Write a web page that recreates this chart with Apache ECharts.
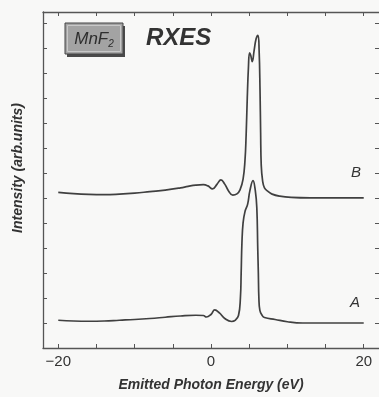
<!DOCTYPE html>
<html>
<head>
<meta charset="utf-8">
<script src="https://cdn.jsdelivr.net/npm/echarts@6/dist/echarts.min.js"></script>
<style>
  html, body { margin: 0; padding: 0; background: #f8f8f7; }
  #chart { width: 379px; height: 397px; }
</style>
</head>
<body>
<div id="chart"></div>
<script>
// Spectrum B (upper trace), emitted photon energy in eV vs. intensity (arb. units)
const energyB = [-20, -18, -16, -14, -12, -10, -8, -6, -4, -3, -2, -1, -0.4, 0.2, 0.8, 1.3, 1.8, 2.3, 2.85, 3.4, 3.8, 4.2, 4.45, 4.6, 4.75, 4.9, 5.05, 5.2, 5.4, 5.65, 5.9, 6.15, 6.3, 6.42, 6.5, 6.58, 6.75, 7.0, 7.5, 8.0, 9.0, 10.5, 13, 16, 20];
const intensityB = [6.22, 6.17, 6.14, 6.13, 6.15, 6.19, 6.25, 6.31, 6.40, 6.46, 6.51, 6.53, 6.48, 6.36, 6.55, 6.72, 6.55, 6.28, 6.11, 6.16, 6.32, 6.75, 7.5, 8.5, 10.0, 11.2, 11.8, 11.7, 11.45, 11.9, 12.35, 12.5, 11.9, 10.3, 8.6, 7.3, 6.7, 6.4, 6.25, 6.15, 6.07, 6.02, 6.0, 6.0, 6.0];

// Spectrum A (lower trace)
const energyA = [-20, -18, -16, -14, -12, -10, -8, -6, -4, -2, -1, -0.6, 0, 0.5, 1.1, 1.8, 2.7, 3.15, 3.6, 3.85, 3.95, 4.05, 4.2, 4.45, 4.8, 5.1, 5.5, 5.8, 6.0, 6.12, 6.2, 6.27, 6.4, 6.7, 7.0, 8.4, 10, 12, 16, 20];
const intensityA = [1.11, 1.08, 1.07, 1.08, 1.11, 1.14, 1.18, 1.23, 1.28, 1.31, 1.30, 1.24, 1.34, 1.52, 1.40, 1.18, 1.06, 1.10, 1.30, 2.0, 3.0, 4.2, 5.0, 5.45, 5.75, 6.3, 6.69, 6.3, 5.6, 4.0, 3.0, 2.0, 1.5, 1.3, 1.22, 1.14, 1.05, 1.0, 1.0, 1.0];

// Axis ticks and labels
const xTicks = [-20, -15, -10, -5, 0, 5, 10, 15, 20];
const xLabels = [-20, 0, 20];
const yTicks = [1, 2, 3, 4, 5, 6, 7, 8, 9, 10, 11, 12, 13];

const zip = (xs, ys) => xs.map((x, i) => [x, ys[i]]);

const ink = '#404040';
const axisInk = '#555';
const font = 'Liberation Sans, Arial, sans-serif';

const chart = echarts.init(document.getElementById('chart'));

const tickStyle = (values) => ({ show: true, inside: true, length: 4, customValues: values, lineStyle: { color: axisInk, width: 1 } });

const frameAxis = (extra) => Object.assign({
  type: 'value',
  axisLine: { show: true, onZero: false, lineStyle: { color: axisInk, width: 1.3 } },
  splitLine: { show: false },
  axisLabel: { show: false }
}, extra);

chart.setOption({
  backgroundColor: '#f8f8f7',
  animation: false,
  grid: { left: 43, top: 12, width: 337, height: 339, containLabel: false },
  xAxis: [
    frameAxis({
      position: 'bottom', min: -22, max: 22,
      axisTick: tickStyle(xTicks),
      axisLabel: {
        show: true, customValues: xLabels, margin: 6,
        color: '#333', fontSize: 15, fontFamily: font,
        formatter: (v) => String(v).replace('-', '\u2212')
      },
      name: 'Emitted Photon Energy (eV)',
      nameLocation: 'middle', nameGap: 30,
      nameTextStyle: { color: '#333', fontSize: 14, fontWeight: 'bold', fontStyle: 'italic', fontFamily: font }
    }),
    frameAxis({ position: 'top', min: -22, max: 22, axisTick: tickStyle(xTicks) })
  ],
  yAxis: [
    frameAxis({ position: 'left', min: 0, max: 13.43, axisTick: tickStyle(yTicks) }),
    frameAxis({
      position: 'right', min: 0, max: 13.43, axisTick: tickStyle(yTicks),
      axisLine: { show: false, onZero: false }
    })
  ],
  series: [
    {
      name: 'B', type: 'line', data: zip(energyB, intensityB),
      showSymbol: false, smooth: 0.45,
      lineStyle: { color: ink, width: 1.7 }
    },
    {
      name: 'A', type: 'line', data: zip(energyA, intensityA),
      showSymbol: false, smooth: 0.45,
      lineStyle: { color: ink, width: 1.7 }
    }
  ],
  graphic: [
    // sample badge with bevelled edge
    { type: 'rect', shape: { x: 67, y: 26, width: 58, height: 31 }, style: { fill: '#4a4a4a' } },
    { type: 'rect', shape: { x: 65, y: 23, width: 58, height: 31 }, style: { fill: '#a3a3a3', stroke: '#444', lineWidth: 1 } },
    { type: 'rect', shape: { x: 67.5, y: 25.5, width: 53, height: 26 }, style: { fill: 'none', stroke: '#c8c8c8', lineWidth: 1 } },
    {
      type: 'text', x: 94, y: 39,
      style: {
        text: '{m|MnF}{s|2}', align: 'center', verticalAlign: 'middle',
        rich: {
          m: { fontSize: 17, fontStyle: 'italic', fontFamily: font, fill: '#2e2e2e' },
          s: { fontSize: 10, fontStyle: 'italic', fontFamily: font, fill: '#2e2e2e', padding: [10, 0, 0, 0] }
        }
      }
    },
    {
      type: 'text', x: 146, y: 38,
      style: { text: 'RXES', fontSize: 24, fontWeight: 'bold', fontStyle: 'italic', fontFamily: font, fill: '#333', verticalAlign: 'middle' }
    },
    {
      type: 'text', x: 356, y: 173,
      style: { text: 'B', fontSize: 15, fontStyle: 'italic', fontFamily: font, fill: '#333', align: 'center', verticalAlign: 'middle' }
    },
    {
      type: 'text', x: 355, y: 303,
      style: { text: 'A', fontSize: 15, fontStyle: 'italic', fontFamily: font, fill: '#333', align: 'center', verticalAlign: 'middle' }
    },
    {
      type: 'text', x: 18, y: 168, rotation: Math.PI / 2,
      style: { text: 'Intensity (arb.units)', fontSize: 14, fontWeight: 'bold', fontStyle: 'italic', fontFamily: font, fill: '#333', align: 'center', verticalAlign: 'middle' }
    }
  ]
});
</script>
</body>
</html>
